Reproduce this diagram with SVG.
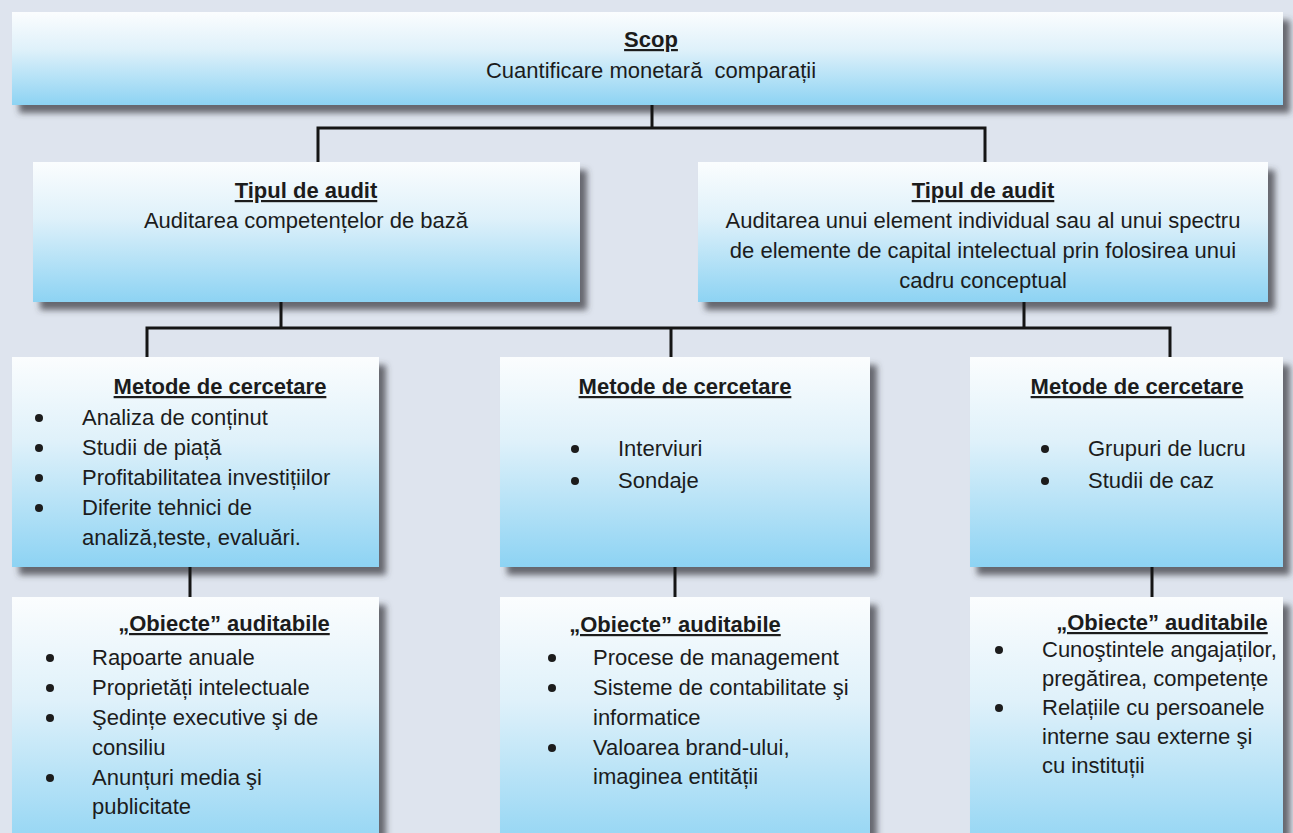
<svg xmlns="http://www.w3.org/2000/svg" width="1293" height="833" viewBox="0 0 1293 833">
<defs>
<linearGradient id="boxg" x1="0" y1="0" x2="0" y2="1">
<stop offset="0" stop-color="#fbfdfe"/>
<stop offset="0.4" stop-color="#dff1fa"/>
<stop offset="1" stop-color="#8dd3f3"/>
</linearGradient>
<filter id="sh" x="-5%" y="-10%" width="115%" height="130%">
<feDropShadow dx="7" dy="8" stdDeviation="3" flood-color="#3c3c44" flood-opacity="0.75"/>
</filter>
</defs>
<style>
.box{fill:url(#boxg);filter:url(#sh);}
.t{font-family:"Liberation Sans",Arial,sans-serif;font-size:22px;fill:#1c1c1c;}
.c{text-anchor:middle;}
.h{font-weight:bold;text-decoration:underline;}
.b{fill:#1c1c1c;}
.con{fill:none;stroke:#151515;stroke-width:3;}
</style>
<rect width="1293" height="833" fill="#dee4ee"/>

<g id="scop">
<rect class="box" x="12" y="12" width="1271" height="93"/>
<text class="t c h" x="651" y="47">Scop</text>
<text class="t c" x="651" y="78" xml:space="preserve">Cuantificare monetară  comparații</text>
</g>

<g id="tip1">
<rect class="box" x="33" y="162" width="547" height="140"/>
<text class="t c h" x="306" y="198">Tipul de audit</text>
<text class="t c" x="306" y="228">Auditarea competențelor de bază</text>
</g>

<g id="tip2">
<rect class="box" x="698" y="162" width="570" height="140"/>
<text class="t c h" x="983" y="198">Tipul de audit</text>
<text class="t c" x="983" y="228">Auditarea unui element individual sau al unui spectru</text>
<text class="t c" x="983" y="258">de elemente de capital intelectual prin folosirea unui</text>
<text class="t c" x="983" y="288">cadru conceptual</text>
</g>

<g id="met1">
<rect class="box" x="12" y="357" width="367" height="210"/>
<text class="t c h" x="220" y="394">Metode de cercetare</text>
<circle class="b" cx="39" cy="418" r="4"/>
<circle class="b" cx="39" cy="448" r="4"/>
<circle class="b" cx="39" cy="478" r="4"/>
<circle class="b" cx="39" cy="508" r="4"/>
<text class="t" x="82" y="425">Analiza de conținut</text>
<text class="t" x="82" y="455">Studii de piață</text>
<text class="t" x="82" y="485">Profitabilitatea investițiilor</text>
<text class="t" x="82" y="515">Diferite tehnici de</text>
<text class="t" x="82" y="545">analiză,teste, evaluări.</text>
</g>

<g id="met2">
<rect class="box" x="500" y="357" width="370" height="210"/>
<text class="t c h" x="685" y="394">Metode de cercetare</text>
<circle class="b" cx="575" cy="449" r="4"/>
<circle class="b" cx="575" cy="481" r="4"/>
<text class="t" x="618" y="456">Interviuri</text>
<text class="t" x="618" y="488">Sondaje</text>
</g>

<g id="met3">
<rect class="box" x="970" y="357" width="313" height="210"/>
<text class="t c h" x="1137" y="394">Metode de cercetare</text>
<circle class="b" cx="1045" cy="449" r="4"/>
<circle class="b" cx="1045" cy="481" r="4"/>
<text class="t" x="1088" y="456">Grupuri de lucru</text>
<text class="t" x="1088" y="488">Studii de caz</text>
</g>

<g id="obi1">
<rect class="box" x="12" y="597" width="367" height="260"/>
<text class="t c h" x="224" y="631">„Obiecte” auditabile</text>
<circle class="b" cx="50" cy="658" r="4"/>
<circle class="b" cx="50" cy="688" r="4"/>
<circle class="b" cx="50" cy="718" r="4"/>
<circle class="b" cx="50" cy="778" r="4"/>
<text class="t" x="92" y="665">Rapoarte anuale</text>
<text class="t" x="92" y="695">Proprietăți intelectuale</text>
<text class="t" x="92" y="725">Şedințe executive şi de</text>
<text class="t" x="92" y="755">consiliu</text>
<text class="t" x="92" y="785">Anunțuri media şi</text>
<text class="t" x="92" y="814">publicitate</text>
</g>

<g id="obi2">
<rect class="box" x="500" y="597" width="370" height="260"/>
<text class="t c h" x="675" y="632">„Obiecte” auditabile</text>
<circle class="b" cx="552" cy="658" r="4"/>
<circle class="b" cx="552" cy="688" r="4"/>
<circle class="b" cx="552" cy="748" r="4"/>
<text class="t" x="593" y="665">Procese de management</text>
<text class="t" x="593" y="695">Sisteme de contabilitate şi</text>
<text class="t" x="593" y="725">informatice</text>
<text class="t" x="593" y="755">Valoarea brand-ului,</text>
<text class="t" x="593" y="784">imaginea entității</text>
</g>

<g id="obi3">
<rect class="box" x="970" y="597" width="313" height="260"/>
<text class="t c h" x="1162" y="630">„Obiecte” auditabile</text>
<circle class="b" cx="999" cy="650" r="4"/>
<circle class="b" cx="999" cy="708" r="4"/>
<text class="t" x="1042" y="657">Cunoştintele angajaților,</text>
<text class="t" x="1042" y="686">pregătirea, competențe</text>
<text class="t" x="1042" y="715">Relațiile cu persoanele</text>
<text class="t" x="1042" y="744">interne sau externe şi</text>
<text class="t" x="1042" y="773">cu instituții</text>
</g>

<g id="connectors">
<path class="con" d="M652 105 V128 M318 162 V128 H985 V162"/>
<path class="con" d="M281 302 V328 M1024 302 V328 M147 357 V328 H1170 V357 M671 328 V357"/>
<path class="con" d="M190 567 V597 M675 567 V597 M1152 567 V597"/>
</g>
</svg>
